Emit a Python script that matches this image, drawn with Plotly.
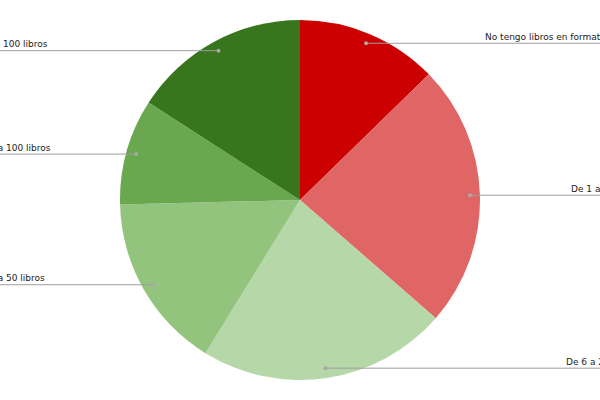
import math
import plotly.graph_objects as go

categories = [
    "No tengo libros en formato digital",
    "De 1 a 5 libros",
    "De 6 a 20 libros",
    "De 21 a 50 libros",
    "De 51 a 100 libros",
    "Más de 100 libros",
]
values = [12.7, 23.7, 22.4, 15.8, 9.5, 15.9]
colors = ["#cc0000", "#e06666", "#b6d7a8", "#93c47d", "#6aa84f", "#38761d"]

W, H = 600, 400
CX, CY, R = 300, 200, 180

fig = go.Figure(go.Pie(
    labels=categories,
    values=values,
    marker=dict(colors=colors, line=dict(width=0)),
    sort=False,
    direction="clockwise",
    rotation=0,
    textinfo="none",
    hoverinfo="label+value+percent",
    domain=dict(x=[(CX - R) / W, (CX + R) / W], y=[(H - CY - R) / H, (H - CY + R) / H]),
))

shapes = []
annotations = []
total = sum(values)
cum = 0
for cat, v in zip(categories, values):
    mid = (cum + v / 2) / total * 2 * math.pi
    cum += v
    px = CX + 0.945 * R * math.sin(mid)
    py = CY - 0.945 * R * math.cos(mid)
    right = math.sin(mid) >= 0
    end_x = 639 if right else -34
    xp = lambda x: x / W
    yp = lambda y: (H - y) / H
    shapes.append(dict(type="line", xref="paper", yref="paper",
                       x0=xp(px), y0=yp(py), x1=xp(end_x), y1=yp(py),
                       line=dict(color="#9e9e9e", width=1), layer="above"))
    shapes.append(dict(type="circle", xref="paper", yref="paper",
                       xsizemode="pixel", ysizemode="pixel",
                       xanchor=xp(px), yanchor=yp(py),
                       x0=-2, x1=2, y0=-2, y1=2,
                       fillcolor="#a8a8a8", line=dict(width=0), layer="above"))
    annotations.append(dict(xref="paper", yref="paper", x=xp(end_x), y=yp(py - 6.5),
                            text=cat, showarrow=False,
                            xanchor="right" if right else "left", yanchor="middle",
                            font=dict(family="DejaVu Sans", size=9, color="#222222")))

fig.update_layout(
    width=W, height=H,
    margin=dict(l=0, r=0, t=0, b=0),
    showlegend=False,
    paper_bgcolor="white",
    shapes=shapes,
    annotations=annotations,
)

fig.write_html("out.html", config={"displayModeBar": False},
               post_script="document.body.style.margin='0';document.body.style.overflow='hidden';")
